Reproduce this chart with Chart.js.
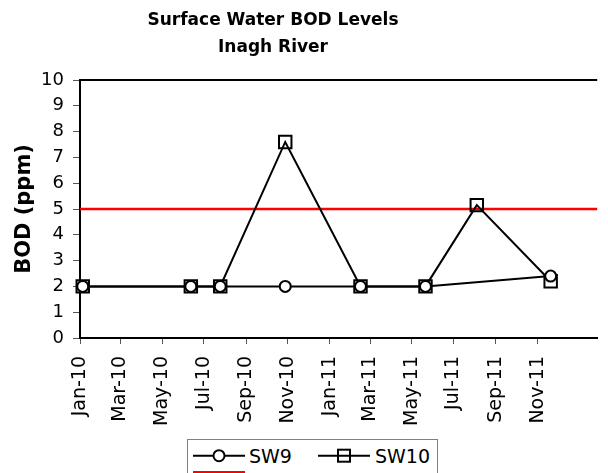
<!DOCTYPE html>
<html>
<head>
<meta charset="utf-8">
<script src="https://cdn.jsdelivr.net/npm/chart.js@4"></script>
<style>
  html, body { margin: 0; padding: 0; background: #fff; }
  #wrap { position: relative; width: 608px; height: 473px; overflow: hidden; }
  #title { position: absolute; left: 0; top: 6px; width: 546px; text-align: center;
           font-family: 'DejaVu Sans'; font-weight: bold; font-size: 17px; line-height: 27px; color: #000; }
  #legend { position: absolute; left: 187px; top: 439px; }
  canvas { position: absolute; left: 0; top: 0; }
</style>
</head>
<body>
<div id="wrap">
  <canvas id="c" width="608" height="473"></canvas>
  <div id="title">Surface Water BOD Levels<br>Inagh River</div>
  <svg id="legend" width="251" height="40" xmlns="http://www.w3.org/2000/svg">
    <rect x="0.5" y="0.5" width="250" height="45" fill="#fff" stroke="#808080" stroke-width="1"/>
    <line x1="6" y1="16.7" x2="58" y2="16.7" stroke="#000" stroke-width="2"/>
    <circle cx="32" cy="16.7" r="5.5" fill="#fff" stroke="#000" stroke-width="2"/>
    <text x="62" y="23.5" font-family="DejaVu Sans" font-size="19" fill="#000">SW9</text>
    <line x1="131" y1="16.7" x2="183" y2="16.7" stroke="#000" stroke-width="2"/>
    <rect x="151" y="10.7" width="12" height="12" fill="none" stroke="#000" stroke-width="2"/>
    <text x="188" y="23.5" font-family="DejaVu Sans" font-size="19" fill="#000">SW10</text>
    <line x1="6" y1="33.3" x2="58" y2="33.3" stroke="#ff0000" stroke-width="2.5"/>
  </svg>
</div>
<script>
// ---- data ----
const sw9Dates  = ['2010-01-05','2010-06-12','2010-07-25','2010-10-28','2011-02-15','2011-05-21','2011-11-20'];
const sw9Values = [2, 2, 2, 2, 2, 2, 2.4];
const sw10Dates  = ['2010-01-05','2010-06-12','2010-07-25','2010-10-28','2011-02-15','2011-05-21','2011-08-04','2011-11-20'];
const sw10Values = [2, 2, 2, 7.6, 2, 2, 5.15, 2.2];
const limitValue = 5;
const tickDates  = ['2010-01-01','2010-03-01','2010-05-01','2010-07-01','2010-09-01','2010-11-01','2011-01-01','2011-03-01','2011-05-01','2011-07-01','2011-09-01','2011-11-01'];
const tickLabels = ['Jan-10','Mar-10','May-10','Jul-10','Sep-10','Nov-10','Jan-11','Mar-11','May-11','Jul-11','Sep-11','Nov-11'];
const axisStart = '2010-01-01';
const axisEnd   = '2012-01-27';

const day = s => { const [y,m,d] = s.split('-').map(Number); return Date.UTC(y, m-1, d) / 86400000; };
const xMin = day(axisStart), xMax = day(axisEnd);
const tickDays = tickDates.map(day);

const topBorder = {
  id: 'topBorder',
  afterDraw(chart) {
    const {ctx, chartArea} = chart;
    ctx.save();
    ctx.strokeStyle = '#000';
    ctx.lineWidth = 2;
    ctx.beginPath();
    ctx.moveTo(chartArea.left, chartArea.top);
    ctx.lineTo(chartArea.right, chartArea.top);
    ctx.stroke();
    ctx.restore();
  }
};

new Chart(document.getElementById('c'), {
  type: 'line',
  data: {
    datasets: [
      {
        label: 'SW9',
        data: sw9Dates.map((d, i) => ({x: day(d), y: sw9Values[i]})),
        borderColor: '#000', borderWidth: 2,
        pointStyle: 'circle', pointRadius: 5.5, pointBorderWidth: 2,
        pointBackgroundColor: '#fff', pointBorderColor: '#000',
        tension: 0, clip: false
      },
      {
        label: 'SW10',
        data: sw10Dates.map((d, i) => ({x: day(d), y: sw10Values[i]})),
        borderColor: '#000', borderWidth: 2,
        pointStyle: 'rect', pointRadius: 8.8, pointBorderWidth: 2,
        pointBackgroundColor: 'rgba(0,0,0,0)', pointBorderColor: '#000',
        tension: 0, clip: false
      },
      {
        label: '',
        data: [{x: xMin, y: limitValue}, {x: xMax, y: limitValue}],
        borderColor: '#ff0000', borderWidth: 2.5,
        pointRadius: 0, tension: 0, clip: false
      }
    ]
  },
  options: {
    responsive: false,
    animation: false,
    layout: { padding: { left: 0, right: 0, top: 80, bottom: 0 } },
    plugins: {
      legend: { display: false },
      tooltip: { enabled: false },
      title: { display: false }
    },
    scales: {
      x: {
        type: 'linear',
        min: xMin, max: xMax,
        afterBuildTicks: s => { s.ticks = tickDays.map(v => ({value: v})); },
        afterFit: s => { s.height = 135; s.paddingLeft = 0; s.paddingRight = 0; },
        ticks: {
          autoSkip: false, minRotation: 90, maxRotation: 90,
          color: '#000', padding: 12,
          font: { family: 'DejaVu Sans', size: 19 },
          callback: v => { const i = tickDays.indexOf(v); return i >= 0 ? tickLabels[i] : ''; }
        },
        grid: { drawOnChartArea: false, drawTicks: true, tickLength: 6, color: '#555' },
        border: { color: '#000', width: 2 }
      },
      y: {
        min: 0, max: 10,
        afterFit: s => { s.width = 80; s.paddingTop = 0; s.paddingBottom = 0; },
        ticks: {
          stepSize: 1, color: '#000', padding: 9,
          font: { family: 'DejaVu Sans', size: 18 }
        },
        grid: { drawOnChartArea: false, drawTicks: true, tickLength: 7, color: '#555' },
        border: { color: '#000', width: 2 },
        title: {
          display: true, text: 'BOD (ppm)', color: '#000',
          font: { family: 'DejaVu Sans', size: 21, weight: 'bold', lineHeight: 1.2 },
          padding: { top: 12, bottom: 0 }
        }
      }
    }
  },
  plugins: [topBorder]
});
</script>
</body>
</html>
